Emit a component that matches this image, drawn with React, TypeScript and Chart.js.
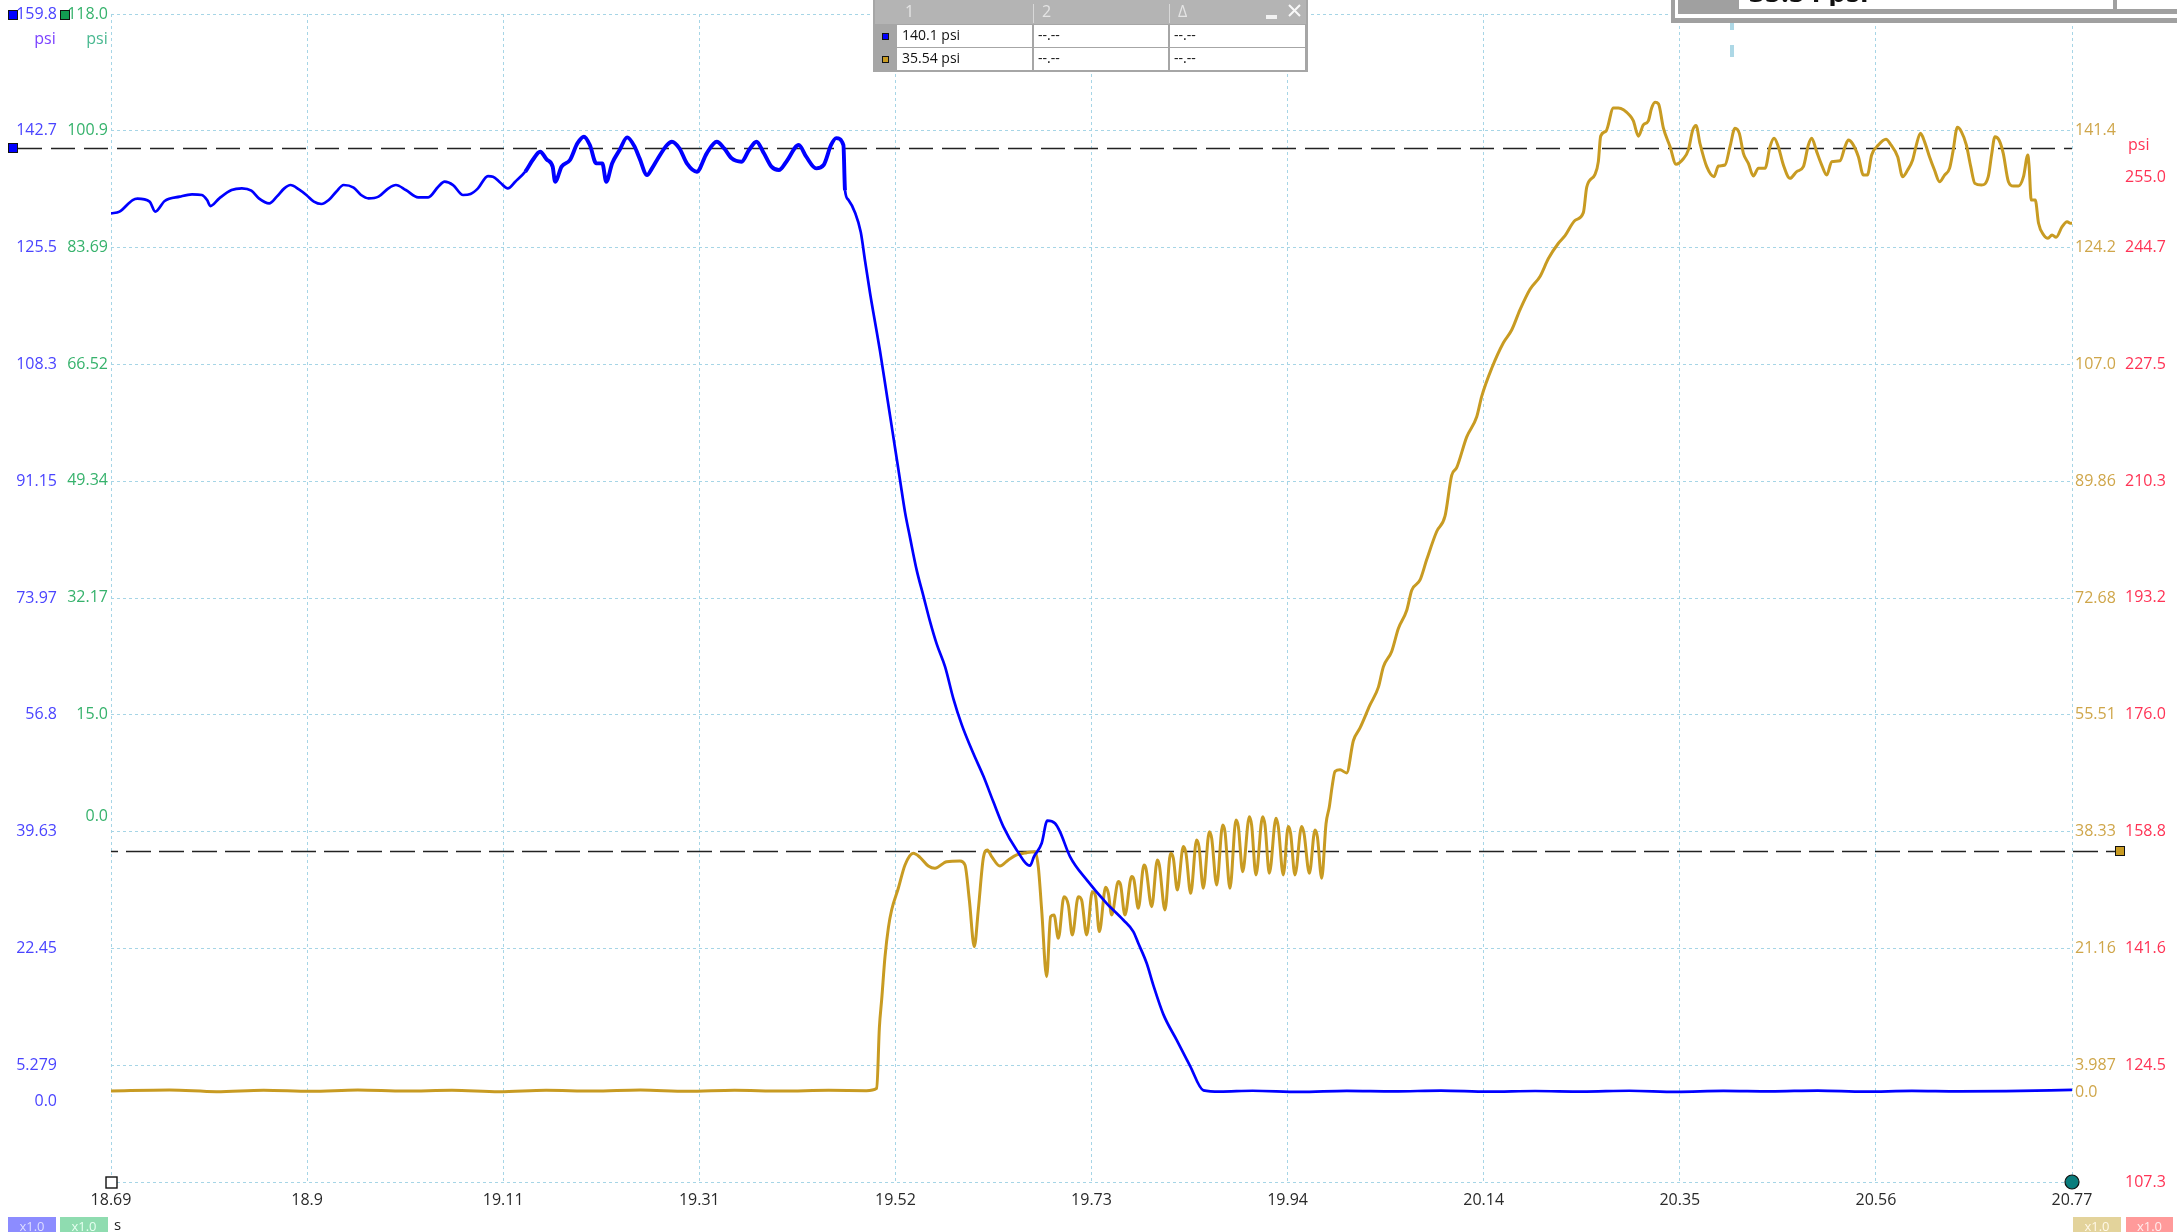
import React, { useEffect, useRef } from "react";
import { Chart, registerables } from "chart.js";

Chart.register(...registerables);

// ---- time base (seconds) ----
const TIME_START = 18.688;
const TIME_END = 20.77;
const TIME_LABELS = ["18.69", "18.9", "19.11", "19.31", "19.52", "19.73", "19.94", "20.14", "20.35", "20.56", "20.77"];

// ---- vertical ranges: every channel shares 10 divisions of 17.176 psi ----
const PSI_PER_DIV = 17.176;
const DIVISIONS = 10;
const BLUE_TOP = 159.86;
const GREEN_TOP = 118.0;
const GOLD_TOP = 158.58;
const RED_TOP = 279.06;

const BLUE_TICK_LABELS = ["159.8", "142.7", "125.5", "108.3", "91.15", "73.97", "56.8", "39.63", "22.45", "5.279", "0.0"];
const GREEN_TICK_LABELS = ["118.0", "100.9", "83.69", "66.52", "49.34", "32.17", "15.0", "0.0"];
const GOLD_TICK_LABELS = ["141.4", "124.2", "107.0", "89.86", "72.68", "55.51", "38.33", "21.16", "3.987", "0.0"];
const RED_TICK_LABELS = ["255.0", "244.7", "227.5", "210.3", "193.2", "176.0", "158.8", "141.6", "124.5", "107.3"];

// ---- horizontal rulers ----
const BLUE_RULER = 140.1;
const GOLD_RULER = 35.54;

const READOUT_HEADER = ["1", "2", "\u0394"];
const READOUT_EMPTY = "--.--";

// ---- channel A (blue) ----
const BLUE_TIME = [
  18.688, 18.697, 18.711, 18.716, 18.729, 18.735, 18.745, 18.761, 18.774, 18.7845, 18.79, 18.7935,
  18.803, 18.816, 18.827, 18.837, 18.845, 18.856, 18.864, 18.872, 18.8785, 18.8875, 18.8954, 18.9034,
  18.9113, 18.9192, 18.9271, 18.935, 18.9456, 18.9535, 18.9614, 18.972, 18.9825, 18.9905, 19.001, 19.0142,
  19.0248, 19.0354, 19.0422, 19.0512, 19.0618, 19.0697, 19.0776, 19.0882, 19.0935, 19.1014, 19.1093, 19.1172,
  19.1278, 19.1357, 19.1436, 19.1505, 19.1569, 19.1595, 19.1664, 19.1753, 19.1832, 19.1901, 19.1964, 19.2032,
  19.2096, 19.2138, 19.2201, 19.228, 19.236, 19.2439, 19.2492, 19.2571, 19.2624, 19.2677, 19.2783, 19.2835,
  19.2915, 19.2994, 19.31, 19.3205, 19.3311, 19.339, 19.3469, 19.3575, 19.3654, 19.3733, 19.3812, 19.3892,
  19.3971, 19.405, 19.4182, 19.4261, 19.4367, 19.4446, 19.4525, 19.458, 19.4656, 19.4673, 19.4709, 19.478,
  19.484, 19.4886, 19.4939, 19.4992, 19.5045, 19.5098, 19.5151, 19.5204, 19.5257, 19.531, 19.5364, 19.5434,
  19.5505, 19.5576, 19.5647, 19.5735, 19.5824, 19.5912, 19.6036, 19.6142, 19.6248, 19.6354, 19.6495, 19.6637,
  19.6679, 19.6761, 19.6821, 19.6902, 19.6955, 19.7062, 19.7239, 19.7451, 19.7628, 19.7734, 19.7787, 19.7876,
  19.7947, 19.8053, 19.8195, 19.8336, 19.8478, 19.8655, 19.9, 19.95, 20.0, 20.05, 20.1, 20.15,
  20.2, 20.25, 20.3, 20.35, 20.4, 20.45, 20.5, 20.55, 20.6, 20.65, 20.7, 20.77,
];
const BLUE_PSI = [
  130.54, 130.79, 132.5, 132.7, 132.26, 130.79, 132.36, 133.0, 133.34, 133.24, 132.5, 131.62,
  132.75, 133.97, 134.22, 133.88, 132.75, 132.01, 133.0, 134.22, 134.71, 134.07, 133.24, 132.26,
  131.92, 132.5, 133.73, 134.71, 134.32, 133.24, 132.75, 133.0, 134.22, 134.71, 133.97, 132.9,
  132.9, 134.46, 135.2, 134.71, 133.24, 133.39, 134.22, 136.03, 135.94, 135.05, 134.22, 135.2,
  136.67, 138.39, 139.61, 138.48, 137.41, 135.2, 137.41, 138.39, 140.84, 141.82, 140.59, 137.9,
  137.9, 135.2, 137.9, 139.86, 141.72, 140.35, 138.63, 136.18, 137.16, 138.39, 140.59, 141.08,
  140.1, 137.9, 136.67, 139.37, 141.08, 140.1, 138.63, 138.14, 139.86, 141.08, 139.37, 137.41,
  136.92, 138.14, 140.59, 138.88, 137.16, 137.65, 140.6, 141.6, 140.58, 133.95, 132.53, 130.64,
  127.8, 123.54, 118.8, 114.54, 110.28, 105.55, 100.81, 96.08, 91.34, 86.61, 82.82, 78.08,
  74.3, 70.51, 67.2, 63.88, 59.15, 55.36, 51.1, 47.79, 44.0, 40.36, 36.93, 34.62,
  35.95, 37.91, 41.24, 40.85, 39.62, 35.95, 32.52, 29.08, 26.63, 24.92, 23.2, 20.26,
  17.01, 12.75, 8.96, 5.18, 1.58, 1.39, 1.52, 1.35, 1.5, 1.42, 1.55, 1.38,
  1.48, 1.4, 1.52, 1.36, 1.5, 1.43, 1.55, 1.38, 1.5, 1.42, 1.47, 1.65,
];

// ---- channel B (gold) ----
const GOLD_TIME = [
  18.688, 18.75, 18.8, 18.85, 18.9, 18.95, 19.0, 19.05, 19.1, 19.15, 19.2, 19.25,
  19.3, 19.35, 19.4, 19.45, 19.49, 19.501, 19.5038, 19.5062, 19.5098, 19.5134, 19.5168, 19.5239,
  19.531, 19.5398, 19.5469, 19.5558, 19.5628, 19.5752, 19.5894, 19.5947, 19.5993, 19.6046, 19.6088, 19.6141,
  19.6184, 19.623, 19.6318, 19.6407, 19.6495, 19.6602, 19.669, 19.6725, 19.6761, 19.6814, 19.6856, 19.6892,
  19.6938, 19.6998, 19.7044, 19.7086, 19.715, 19.7185, 19.7239, 19.7299, 19.7334, 19.7373, 19.744, 19.7469,
  19.7504, 19.7575, 19.7599, 19.7645, 19.7716, 19.7741, 19.7787, 19.7847, 19.7868, 19.7929, 19.7989, 19.801,
  19.807, 19.813, 19.8159, 19.8201, 19.8265, 19.8293, 19.8343, 19.8406, 19.8431, 19.8477, 19.8541, 19.8566,
  19.8619, 19.8683, 19.8707, 19.876, 19.8824, 19.8849, 19.8895, 19.8966, 19.899, 19.9036, 19.9107, 19.9132,
  19.9178, 19.9249, 19.9273, 19.9326, 19.9379, 19.9404, 19.945, 19.9521, 19.9546, 19.9603, 19.9663, 19.9688,
  19.9734, 19.978, 19.9815, 19.9845, 19.9876, 19.9929, 19.9999, 20.007, 20.0141, 20.0247, 20.0336, 20.0389,
  20.0477, 20.0548, 20.0636, 20.069, 20.0778, 20.0849, 20.0955, 20.1043, 20.1114, 20.1167, 20.1273, 20.138,
  20.1433, 20.1539, 20.1663, 20.1751, 20.184, 20.1946, 20.2052, 20.2141, 20.2247, 20.2318, 20.2424, 20.2512,
  20.2548, 20.2636, 20.2671, 20.2696, 20.2753, 20.2831, 20.2884, 20.3008, 20.3043, 20.3096, 20.3149, 20.3202,
  20.3237, 20.3273, 20.331, 20.3362, 20.3432, 20.3496, 20.3574, 20.3627, 20.3673, 20.3708, 20.3751, 20.3822,
  20.3899, 20.3946, 20.4016, 20.4069, 20.4122, 20.4168, 20.4211, 20.4264, 20.4317, 20.437, 20.4441, 20.4494,
  20.4537, 20.4582, 20.4636, 20.4706, 20.4777, 20.4848, 20.4901, 20.4936, 20.4989, 20.5043, 20.5096, 20.5149,
  20.5237, 20.529, 20.5326, 20.5368, 20.5432, 20.5485, 20.5527, 20.5573, 20.5644, 20.5725, 20.5778, 20.5849,
  20.5902, 20.5955, 20.6008, 20.6043, 20.6091, 20.6134, 20.6187, 20.624, 20.6294, 20.6347, 20.64, 20.6436,
  20.6483, 20.6525, 20.6578, 20.6625, 20.6668, 20.6739, 20.6811, 20.6846, 20.6882, 20.6925, 20.697, 20.7025,
  20.7078, 20.7132, 20.7185, 20.7231, 20.7245, 20.7267, 20.731, 20.7345, 20.7399, 20.7445, 20.7488, 20.7531,
  20.7595, 20.7648, 20.7683, 20.77,
];
const GOLD_PSI = [
  0.2, 0.35, 0.1, 0.3, 0.15, 0.35, 0.2, 0.3, 0.1, 0.3, 0.2, 0.35,
  0.15, 0.3, 0.2, 0.3, 0.25, 0.6, 9.57, 13.59, 20.0, 24.26, 26.82, 30.01,
  33.44, 35.16, 34.57, 33.29, 32.95, 33.93, 34.03, 33.44, 28.29, 21.43, 26.82, 34.42,
  35.65, 34.67, 33.29, 34.18, 34.91, 35.25, 35.4, 33.2, 26.82, 17.02, 25.84, 26.09,
  22.66, 28.78, 27.56, 23.15, 28.78, 28.29, 23.15, 29.52, 28.78, 23.64, 30.16, 29.27,
  26.09, 31.0, 30.5, 26.09, 31.73, 31.24, 27.07, 33.44, 32.95, 27.31, 34.18, 33.44,
  26.82, 35.16, 34.42, 29.76, 36.14, 35.16, 29.27, 37.12, 36.14, 30.01, 38.34, 37.36,
  30.5, 39.32, 38.34, 30.01, 40.06, 39.08, 32.46, 40.55, 39.32, 31.97, 40.55, 39.32,
  32.22, 40.3, 39.08, 31.97, 39.08, 38.1, 31.97, 39.08, 38.1, 32.22, 38.59, 37.61,
  31.48, 39.5, 42.0, 45.0, 47.21, 47.43, 46.98, 51.71, 53.59, 56.97, 59.59, 62.59,
  64.84, 68.22, 70.85, 73.85, 75.35, 78.35, 82.48, 84.73, 90.73, 91.86, 96.36, 99.36,
  102.36, 106.48, 110.24, 112.11, 115.11, 118.11, 119.99, 122.62, 124.87, 125.99, 128.24, 129.37,
  133.12, 135.0, 136.87, 140.62, 141.37, 144.75, 144.75, 143.62, 142.87, 140.62, 142.27, 142.87,
  144.75, 145.6, 145.35, 141.8, 139.1, 136.5, 137.3, 138.6, 141.5, 142.2, 139.5, 136.13,
  134.66, 136.23, 136.37, 139.07, 141.77, 141.03, 138.09, 136.62, 134.76, 135.88, 135.88, 139.07,
  140.3, 139.07, 136.37, 134.41, 135.4, 136.13, 139.32, 140.3, 138.34, 136.37, 134.9, 136.87,
  137.01, 139.07, 140.05, 139.56, 137.6, 134.9, 134.9, 137.85, 139.32, 140.15, 139.32, 137.6,
  134.66, 135.64, 137.11, 139.07, 141.03, 139.81, 137.6, 135.64, 133.92, 134.9, 135.88, 138.34,
  141.91, 141.28, 139.32, 136.13, 133.68, 133.43, 134.66, 137.85, 140.54, 140.05, 138.09, 133.92,
  133.29, 133.29, 134.66, 137.85, 136.13, 131.23, 131.23, 127.8, 126.08, 125.59, 126.08, 125.74,
  127.31, 128.04, 127.8, 127.8,
];

// ---- colours ----
const BLUE_TRACE = "#0000ff";
const GOLD_TRACE = "#c89b22";
const BLUE_TEXT = "#4a44ff";
const BLUE_UNIT = "#7a40ff";
const GREEN_TEXT = "#36b26c";
const GREEN_UNIT = "#48b890";
const GOLD_TEXT = "#cfa64a";
const RED_TEXT = "#ff3355";
const GRID = "#a6d5e6";
const FONT = '"Open Sans", "Noto Sans", "DejaVu Sans", sans-serif';

function toPoints(t: number[], v: number[]) {
  return t.map((x, i) => ({ x, y: v[i] }));
}

function label(ctx: any, s: string, x: number, y: number, color: string, align: string, size = 16, weight = "normal") {
  ctx.font = `${weight} ${size}px ${FONT}`;
  ctx.fillStyle = color;
  ctx.textAlign = align;
  ctx.textBaseline = "middle";
  ctx.fillText(s, x, y);
}

function marker(ctx: any, cx: number, cy: number, size: number, fill: string) {
  const h = size / 2;
  const x = Math.round(cx - h);
  const y = Math.round(cy - h);
  ctx.fillStyle = fill;
  ctx.fillRect(x, y, size, size);
  ctx.strokeStyle = "#111";
  ctx.lineWidth = 1;
  ctx.strokeRect(x + 0.5, y + 0.5, size - 1, size - 1);
}

function badge(ctx: any, x: number, w: number, fill: string, textColor: string) {
  ctx.fillStyle = fill;
  ctx.fillRect(x, 1217, w, 16);
  label(ctx, "x1.0", x + w / 2, 1227, textColor, "center", 13);
}

const scopeDecor = {
  id: "scopeDecor",
  beforeDatasetsDraw(chart: any) {
    const { ctx, chartArea: a, scales } = chart;
    const yb = Math.round(scales.yBlue.getPixelForValue(BLUE_RULER)) + 0.5;
    const yg = Math.round(scales.yGold.getPixelForValue(GOLD_RULER)) + 0.5;
    ctx.save();
    ctx.strokeStyle = "#222222";
    ctx.lineWidth = 1.7;
    ctx.setLineDash([24, 9]);
    ctx.beginPath();
    ctx.moveTo(18, yb);
    ctx.lineTo(a.right, yb);
    ctx.stroke();
    ctx.setLineDash([25, 8]);
    ctx.lineDashOffset = 18;
    ctx.beginPath();
    ctx.moveTo(a.left, yg);
    ctx.lineTo(a.right + 43, yg);
    ctx.stroke();
    ctx.restore();
  },
  afterDraw(chart: any) {
    const { ctx, chartArea: a, scales } = chart;
    const yB = scales.yBlue;
    const yG = scales.yGreen;
    const yO = scales.yGold;
    const yR = scales.yRed;
    ctx.save();

    // axis value labels
    BLUE_TICK_LABELS.forEach((s) => label(ctx, s, a.left - 54, yB.getPixelForValue(Number(s)), BLUE_TEXT, "right"));
    GREEN_TICK_LABELS.forEach((s) => label(ctx, s, a.left - 3, yG.getPixelForValue(Number(s)), GREEN_TEXT, "right"));
    GOLD_TICK_LABELS.forEach((s) => label(ctx, s, a.right + 3, yO.getPixelForValue(Number(s)), GOLD_TEXT, "left"));
    RED_TICK_LABELS.forEach((s) => label(ctx, s, a.right + 53, yR.getPixelForValue(Number(s)), RED_TEXT, "left"));
    label(ctx, "psi", a.left - 66, a.top + 25, BLUE_UNIT, "center");
    label(ctx, "psi", a.left - 14, a.top + 25, GREEN_UNIT, "center");
    label(ctx, "psi", a.right + 56, a.top + 131, RED_TEXT, "left");

    // channel squares beside the top labels
    marker(ctx, 13, a.top + 1, 10, BLUE_TRACE);
    marker(ctx, 65, a.top + 1, 10, "#129a52");

    // ruler handles
    marker(ctx, 13, scales.yBlue.getPixelForValue(BLUE_RULER), 10, BLUE_TRACE);
    marker(ctx, a.right + 48, scales.yGold.getPixelForValue(GOLD_RULER), 10, GOLD_TRACE);

    // time ruler handles
    ctx.fillStyle = "#ffffff";
    ctx.fillRect(a.left - 5, a.bottom - 5, 11, 11);
    ctx.strokeStyle = "#111";
    ctx.lineWidth = 1.4;
    ctx.strokeRect(a.left - 5, a.bottom - 5, 11, 11);
    ctx.beginPath();
    ctx.arc(a.right, a.bottom, 7, 0, Math.PI * 2);
    ctx.fillStyle = "#0a7d7d";
    ctx.fill();
    ctx.lineWidth = 1.2;
    ctx.stroke();

    // scale badges and time unit
    badge(ctx, 8, 48, "#8c8cff", "#dedeff");
    badge(ctx, 60, 48, "#8fdcb0", "#e6fff0");
    label(ctx, "s", 114, 1226, "#222", "left", 15);
    badge(ctx, 2073, 48, "#e3d39b", "#fff8e8");
    badge(ctx, 2126, 47, "#ff9a9a", "#ffecec");

    // ruler readout table
    const tx = 873;
    const tw = 435;
    ctx.fillStyle = "#a6a6a6";
    ctx.fillRect(tx, 0, tw, 72);
    ctx.fillStyle = "#b4b4b4";
    ctx.fillRect(tx + 2, 0, tw - 4, 24);
    const cols = [897, 1034, 1170];
    const colW = [135, 134, 135];
    const rows = [25, 48];
    const rowText = [
      [`${BLUE_RULER} psi`, READOUT_EMPTY, READOUT_EMPTY],
      [`${GOLD_RULER} psi`, READOUT_EMPTY, READOUT_EMPTY],
    ];
    rows.forEach((ry, r) => {
      cols.forEach((cx, c) => {
        ctx.fillStyle = "#ffffff";
        ctx.fillRect(cx, ry, colW[c], 22);
        label(ctx, rowText[r][c], cx + (c === 0 ? 5 : 4), ry + 11.5, "#111", "left", 14);
      });
    });
    marker(ctx, 885, 36, 7, BLUE_TRACE);
    marker(ctx, 885, 59, 7, GOLD_TRACE);
    ctx.strokeStyle = "#d8d8d8";
    ctx.lineWidth = 1;
    [1033.5, 1169.5].forEach((x) => {
      ctx.beginPath();
      ctx.moveTo(x, 4);
      ctx.lineTo(x, 23);
      ctx.stroke();
    });
    READOUT_HEADER.forEach((h, i) => label(ctx, h, cols[i] + 8, 12, "#e4e4e4", "left", 16));
    ctx.fillStyle = "#f2f2f2";
    ctx.fillRect(1266, 15, 11, 4);
    ctx.strokeStyle = "#f8f8f8";
    ctx.lineWidth = 2;
    ctx.beginPath();
    ctx.moveTo(1289, 5);
    ctx.lineTo(1300, 16);
    ctx.moveTo(1300, 5);
    ctx.lineTo(1289, 16);
    ctx.stroke();

    // partly hidden panel at the top edge
    ctx.fillStyle = "#a0a0a0";
    ctx.fillRect(1671, 0, 506, 23);
    ctx.fillStyle = "#ffffff";
    ctx.fillRect(1675, 0, 502, 18);
    ctx.fillStyle = "#a0a0a0";
    ctx.fillRect(1678, 0, 499, 14);
    ctx.fillStyle = "#ffffff";
    ctx.fillRect(1739, 0, 374, 9);
    ctx.fillRect(2117, 0, 60, 9);
    ctx.save();
    ctx.beginPath();
    ctx.rect(1739, 0, 374, 6);
    ctx.clip();
    ctx.font = `bold 28px ${FONT}`;
    ctx.fillStyle = "#111";
    ctx.textAlign = "left";
    ctx.textBaseline = "alphabetic";
    ctx.fillText(`${GOLD_RULER} psi`, 1749, 2);
    ctx.restore();
    ctx.fillStyle = "#add8e6";
    ctx.fillRect(1730, 23, 4, 7);
    ctx.fillRect(1730, 45, 4, 12);

    ctx.restore();
  },
};

export default function App() {
  const canvasRef = useRef<HTMLCanvasElement | null>(null);

  useEffect(() => {
    const canvas = canvasRef.current;
    if (!canvas) return;
    const step = (TIME_END - TIME_START) / DIVISIONS;
    const divTicks = (top: number) => {
      const out: any[] = [];
      for (let i = DIVISIONS; i >= 0; i--) out.push({ value: top - i * PSI_PER_DIV });
      return out;
    };
    const hiddenY = (top: number) => ({
      type: "linear",
      display: false,
      min: top - DIVISIONS * PSI_PER_DIV,
      max: top,
    });

    const chart = new Chart(canvas, {
      type: "line",
      data: {
        datasets: [
          {
            label: "A",
            data: toPoints(BLUE_TIME, BLUE_PSI),
            yAxisID: "yBlue",
            borderColor: BLUE_TRACE,
            borderWidth: 2.7,
            pointRadius: 0,
            cubicInterpolationMode: "monotone",
            segment: {
              borderWidth: (c: any) => {
                const t = c.p0.parsed.x;
                return t > 19.12 && t < 19.466 ? 3.9 : undefined;
              },
            },
          },
          {
            label: "B",
            data: toPoints(GOLD_TIME, GOLD_PSI),
            yAxisID: "yGold",
            borderColor: GOLD_TRACE,
            borderWidth: 3,
            pointRadius: 0,
            cubicInterpolationMode: "monotone",
          },
        ],
      },
      options: {
        animation: false,
        responsive: true,
        maintainAspectRatio: false,
        parsing: false,
        normalized: true,
        events: [],
        layout: { padding: { left: 111, right: 105, top: 14, bottom: 0 } },
        plugins: { legend: { display: false }, tooltip: { enabled: false } },
        scales: {
          x: {
            type: "linear",
            min: TIME_START,
            max: TIME_END,
            afterBuildTicks: (s: any) => {
              s.ticks = TIME_LABELS.map((_, i) => ({ value: TIME_START + i * step }));
            },
            afterFit: (s: any) => {
              s.height = 50;
            },
            ticks: {
              autoSkip: false,
              maxRotation: 0,
              padding: 9,
              color: "#2a2a2a",
              font: { family: FONT, size: 16 },
              callback: (_v: any, i: number) => TIME_LABELS[i],
            },
            grid: { color: GRID, lineWidth: 1, drawTicks: false },
            border: { display: false, dash: [3, 3] },
          },
          yBlue: {
            type: "linear",
            position: "left",
            min: BLUE_TOP - DIVISIONS * PSI_PER_DIV,
            max: BLUE_TOP,
            afterBuildTicks: (s: any) => {
              s.ticks = divTicks(BLUE_TOP);
            },
            afterFit: (s: any) => {
              s.width = 0;
            },
            ticks: { display: false },
            grid: { color: GRID, lineWidth: 1, drawTicks: false },
            border: { display: false, dash: [3, 3] },
          },
          yGreen: hiddenY(GREEN_TOP),
          yGold: hiddenY(GOLD_TOP),
          yRed: hiddenY(RED_TOP),
        },
      } as any,
      plugins: [scopeDecor],
    });
    return () => chart.destroy();
  }, []);

  return (
    <div style={{ position: "fixed", left: 0, top: 0, width: 2177, height: 1232, background: "#ffffff" }}>
      <canvas ref={canvasRef} />
    </div>
  );
}
